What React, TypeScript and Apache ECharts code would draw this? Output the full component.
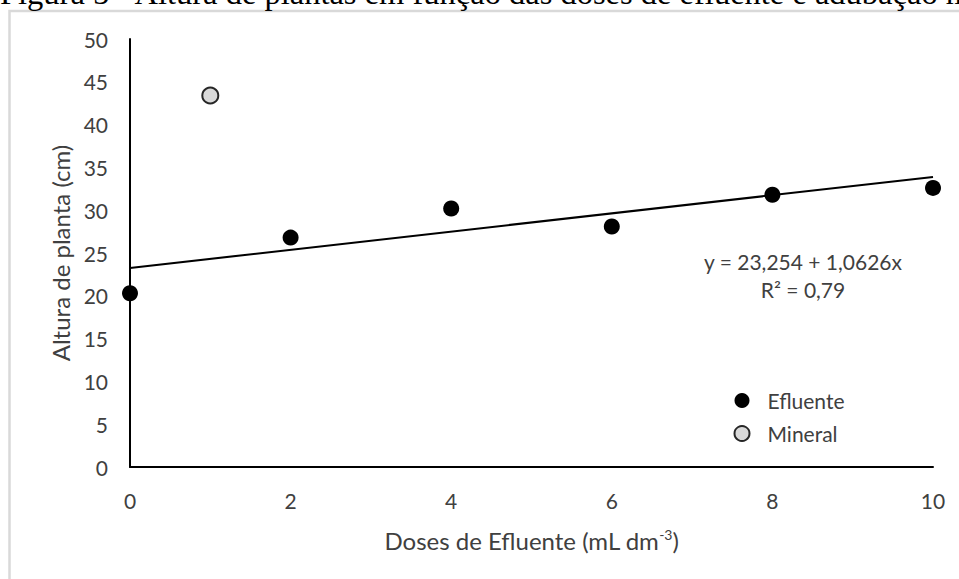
import React, { useEffect, useRef } from "react";
import * as echarts from "echarts";

const efluenteX = [0, 2, 4, 6, 8, 10];
const efluenteY = [20.3, 26.8, 30.2, 28.1, 31.8, 32.6];
const mineralX = [1];
const mineralY = [43.4];
const trendX = [0, 10];
const trendIntercept = 23.254;
const trendSlope = 1.0626;
const xTicks = [0, 2, 4, 6, 8, 10];
const yTicks = [0, 5, 10, 15, 20, 25, 30, 35, 40, 45, 50];
const titleText = "Figura 5 - Altura de plantas em função das doses de efluente e adubação mineral";
const equationText = "y = 23,254 + 1,0626x";
const r2Text = "R² = 0,79";

const FONT = "Lato";
const TXT = "#404040";

export default function App() {
  const ref = useRef<HTMLDivElement>(null);
  useEffect(() => {
    const chart = echarts.init(ref.current!, null, { renderer: "svg" });
    const trendData = trendX.map((x) => [x, trendIntercept + trendSlope * x]);
    chart.setOption({
      animation: false,
      backgroundColor: "#fff",
      grid: { left: 130, right: 26, top: 39, bottom: 112, containLabel: false },
      xAxis: {
        type: "value",
        min: xTicks[0],
        max: xTicks[xTicks.length - 1],
        interval: 2,
        axisLine: { show: true, lineStyle: { color: "#000", width: 2 } },
        axisTick: { show: false },
        splitLine: { show: false },
        axisLabel: { color: TXT, fontFamily: FONT, fontSize: 21, margin: 23 },
        name: "Doses de Efluente (mL dm{sup|-3})",
        nameLocation: "middle",
        nameGap: 60,
        nameTextStyle: {
          color: TXT,
          fontFamily: FONT,
          fontSize: 24,
          lineHeight: 26,
          rich: { sup: { fontSize: 14, color: TXT, fontFamily: FONT, lineHeight: 26, padding: [0, 0, 12, 0] } },
        },
      },
      yAxis: {
        type: "value",
        min: yTicks[0],
        max: yTicks[yTicks.length - 1],
        interval: 5,
        axisLine: { show: true, lineStyle: { color: "#000", width: 2 } },
        axisTick: { show: false },
        splitLine: { show: false },
        axisLabel: { color: TXT, fontFamily: FONT, fontSize: 21, margin: 22 },
        name: "Altura de planta (cm)",
        nameLocation: "middle",
        nameGap: 56,
        nameTextStyle: { color: TXT, fontFamily: FONT, fontSize: 24 },
      },
      legend: {
        orient: "vertical",
        left: 728.5,
        top: 385,
        itemWidth: 15,
        itemHeight: 15,
        itemGap: 12,
        icon: "circle",
        data: ["Efluente", "Mineral"],
        textStyle: { color: TXT, fontFamily: FONT, fontSize: 21, padding: [0, 0, 0, 13] },
      },
      graphic: [
        {
          type: "rect",
          shape: { x: 9.5, y: 11, width: 1200, height: 1200 },
          style: { fill: "none", stroke: "#d9d9d9", lineWidth: 2.5 },
          silent: true,
        },
        {
          type: "text",
          x: 0,
          y: -7,
          style: { text: titleText, font: "32.5px 'Liberation Serif'", fill: "#000", verticalAlign: "middle", align: "left" },
          silent: true,
        },
        {
          type: "text",
          x: 803,
          y: 261,
          style: { text: equationText, fontFamily: FONT, fontSize: 21, fill: TXT, align: "center", verticalAlign: "middle" },
        },
        {
          type: "text",
          x: 803,
          y: 289,
          style: { text: r2Text, fontFamily: FONT, fontSize: 21, fill: TXT, align: "center", verticalAlign: "middle" },
        },
      ],
      series: [
        {
          name: "Trend",
          type: "line",
          data: trendData,
          showSymbol: false,
          symbol: "none",
          lineStyle: { color: "#000", width: 2 },
          silent: true,
          z: 1,
        },
        {
          name: "Efluente",
          type: "scatter",
          data: efluenteX.map((x, i) => [x, efluenteY[i]]),
          symbol: "circle",
          symbolSize: 16,
          itemStyle: { color: "#000", opacity: 1 },
          z: 3,
        },
        {
          name: "Mineral",
          type: "scatter",
          data: mineralX.map((x, i) => [x, mineralY[i]]),
          symbol: "circle",
          symbolSize: 16,
          itemStyle: { color: "#d9d9d9", borderColor: "#262626", borderWidth: 2, opacity: 1 },
          z: 3,
        },
      ],
    });
    return () => chart.dispose();
  }, []);
  return (
    <div
      ref={ref}
      style={{ position: "fixed", left: 0, top: 0, width: 959, height: 579 }}
    />
  );
}
